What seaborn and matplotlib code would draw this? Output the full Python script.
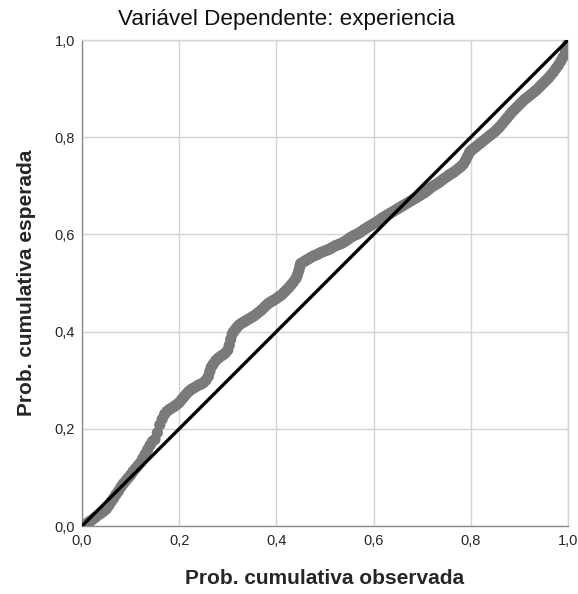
import matplotlib
matplotlib.use("Agg")
import matplotlib.pyplot as plt
import seaborn as sns
import pandas as pd

observed = [0.000, 0.005, 0.010, 0.015, 0.020, 0.025, 0.030, 0.035, 0.040, 0.045,
            0.050, 0.055, 0.060, 0.065, 0.070, 0.075, 0.080, 0.085, 0.090, 0.095,
            0.100, 0.105, 0.110, 0.115, 0.120, 0.125, 0.130, 0.135, 0.140, 0.145,
            0.150, 0.155, 0.160, 0.165, 0.170, 0.175, 0.180, 0.185, 0.190, 0.195,
            0.200, 0.205, 0.210, 0.215, 0.220, 0.225, 0.230, 0.235, 0.240, 0.245,
            0.250, 0.255, 0.260, 0.263, 0.266, 0.270, 0.275, 0.280, 0.285, 0.290,
            0.295, 0.300, 0.303, 0.306, 0.309, 0.312, 0.316, 0.320, 0.325, 0.330,
            0.335, 0.340, 0.345, 0.350, 0.355, 0.360, 0.365, 0.370, 0.375, 0.380,
            0.385, 0.390, 0.395, 0.400, 0.405, 0.410, 0.415, 0.420, 0.425, 0.430,
            0.435, 0.440, 0.443, 0.446, 0.448, 0.450, 0.455, 0.460, 0.465, 0.470,
            0.475, 0.480, 0.485, 0.490, 0.495, 0.500, 0.505, 0.510, 0.515, 0.520,
            0.525, 0.530, 0.535, 0.540, 0.545, 0.550, 0.555, 0.560, 0.565, 0.570,
            0.575, 0.580, 0.585, 0.590, 0.595, 0.600, 0.605, 0.610, 0.615, 0.620,
            0.625, 0.630, 0.635, 0.640, 0.645, 0.650, 0.655, 0.660, 0.665, 0.670,
            0.675, 0.680, 0.685, 0.690, 0.695, 0.700, 0.705, 0.710, 0.715, 0.720,
            0.725, 0.730, 0.735, 0.740, 0.745, 0.750, 0.755, 0.760, 0.765, 0.770,
            0.775, 0.780, 0.785, 0.789, 0.793, 0.797, 0.800, 0.805, 0.810, 0.815,
            0.820, 0.825, 0.830, 0.835, 0.840, 0.845, 0.850, 0.855, 0.860, 0.865,
            0.870, 0.875, 0.880, 0.885, 0.890, 0.895, 0.900, 0.905, 0.910, 0.915,
            0.920, 0.925, 0.930, 0.935, 0.940, 0.945, 0.950, 0.955, 0.960, 0.965,
            0.970, 0.975, 0.980, 0.985, 0.990, 0.995, 1.000]
expected = [0.000, 0.002, 0.005, 0.009, 0.012, 0.016, 0.020, 0.024, 0.027, 0.031,
            0.035, 0.042, 0.050, 0.057, 0.065, 0.072, 0.080, 0.087, 0.093, 0.099,
            0.105, 0.112, 0.118, 0.124, 0.130, 0.139, 0.148, 0.157, 0.166, 0.174,
            0.178, 0.192, 0.208, 0.220, 0.230, 0.236, 0.240, 0.243, 0.246, 0.250,
            0.254, 0.260, 0.266, 0.272, 0.277, 0.281, 0.284, 0.287, 0.290, 0.292,
            0.295, 0.300, 0.308, 0.318, 0.327, 0.333, 0.340, 0.345, 0.349, 0.352,
            0.356, 0.362, 0.372, 0.384, 0.395, 0.400, 0.405, 0.410, 0.415, 0.418,
            0.421, 0.424, 0.427, 0.430, 0.433, 0.437, 0.441, 0.445, 0.450, 0.455,
            0.459, 0.462, 0.465, 0.468, 0.472, 0.475, 0.480, 0.485, 0.490, 0.496,
            0.502, 0.509, 0.516, 0.525, 0.533, 0.540, 0.543, 0.546, 0.549, 0.552,
            0.555, 0.557, 0.559, 0.562, 0.564, 0.566, 0.568, 0.570, 0.573, 0.576,
            0.578, 0.580, 0.582, 0.585, 0.588, 0.592, 0.595, 0.598, 0.600, 0.603,
            0.606, 0.610, 0.613, 0.616, 0.619, 0.622, 0.625, 0.628, 0.632, 0.635,
            0.638, 0.641, 0.644, 0.647, 0.650, 0.653, 0.656, 0.659, 0.662, 0.665,
            0.668, 0.671, 0.674, 0.677, 0.680, 0.683, 0.686, 0.690, 0.694, 0.698,
            0.701, 0.704, 0.707, 0.711, 0.715, 0.718, 0.722, 0.725, 0.728, 0.732,
            0.736, 0.740, 0.745, 0.752, 0.760, 0.768, 0.772, 0.776, 0.780, 0.784,
            0.788, 0.792, 0.796, 0.800, 0.804, 0.808, 0.812, 0.817, 0.822, 0.828,
            0.834, 0.840, 0.846, 0.852, 0.857, 0.862, 0.867, 0.872, 0.877, 0.881,
            0.885, 0.889, 0.893, 0.897, 0.902, 0.907, 0.912, 0.917, 0.922, 0.928,
            0.934, 0.941, 0.948, 0.956, 0.965, 0.977, 0.992]
ref_line = [0.0, 1.0]
tick_values = [0.0, 0.2, 0.4, 0.6, 0.8, 1.0]
tick_labels = ["0,0", "0,2", "0,4", "0,6", "0,8", "1,0"]

sns.set_theme(style="white")
plt.rcParams['font.family'] = ['Liberation Sans', 'DejaVu Sans']

fig = plt.figure(figsize=(5.78, 5.94), dpi=100)
ax = fig.add_axes([82/578, 68/594, 486/578, 486/594])

df = pd.DataFrame({"obs": observed, "exp": expected})
sns.scatterplot(data=df, x="obs", y="exp", ax=ax, color="#7a7a7a",
                s=66, edgecolor="none", linewidth=0, zorder=3, legend=False)
sns.lineplot(x=ref_line, y=ref_line, ax=ax, color="black", linewidth=2.4,
             zorder=4, legend=False)

ax.set_xlim(0, 1)
ax.set_ylim(0, 1)
ax.set_xticks(tick_values)
ax.set_yticks(tick_values)
ax.set_xticklabels(tick_labels, fontsize=10.5)
ax.set_yticklabels(tick_labels, fontsize=10.5)
ax.tick_params(axis="x", length=0, pad=6)
ax.tick_params(axis="y", length=0, pad=5)
ax.grid(True, color="#d4d4d4", linewidth=1.0)
ax.set_axisbelow(True)
for side in ["left", "bottom"]:
    ax.spines[side].set_color("#8a8a8a")
    ax.spines[side].set_linewidth(1.0)
for side in ["top", "right"]:
    ax.spines[side].set_color("#d4d4d4")
    ax.spines[side].set_linewidth(1.0)

ax.set_xlabel("")
ax.set_ylabel("")
fig.text(325/578, 1 - 578/594, "Prob. cumulativa observada", ha="center", va="center",
         fontsize=15, fontweight="bold")
fig.text(27/578, 1 - 283/594, "Prob. cumulativa esperada", ha="center", va="center",
         fontsize=15, fontweight="bold", rotation=90)
fig.text(286/578, 1 - 20/594, "Variável Dependente: experiencia", ha="center", va="center",
         fontsize=16.2, color="#111111")

fig.savefig("out.png", dpi=100)
